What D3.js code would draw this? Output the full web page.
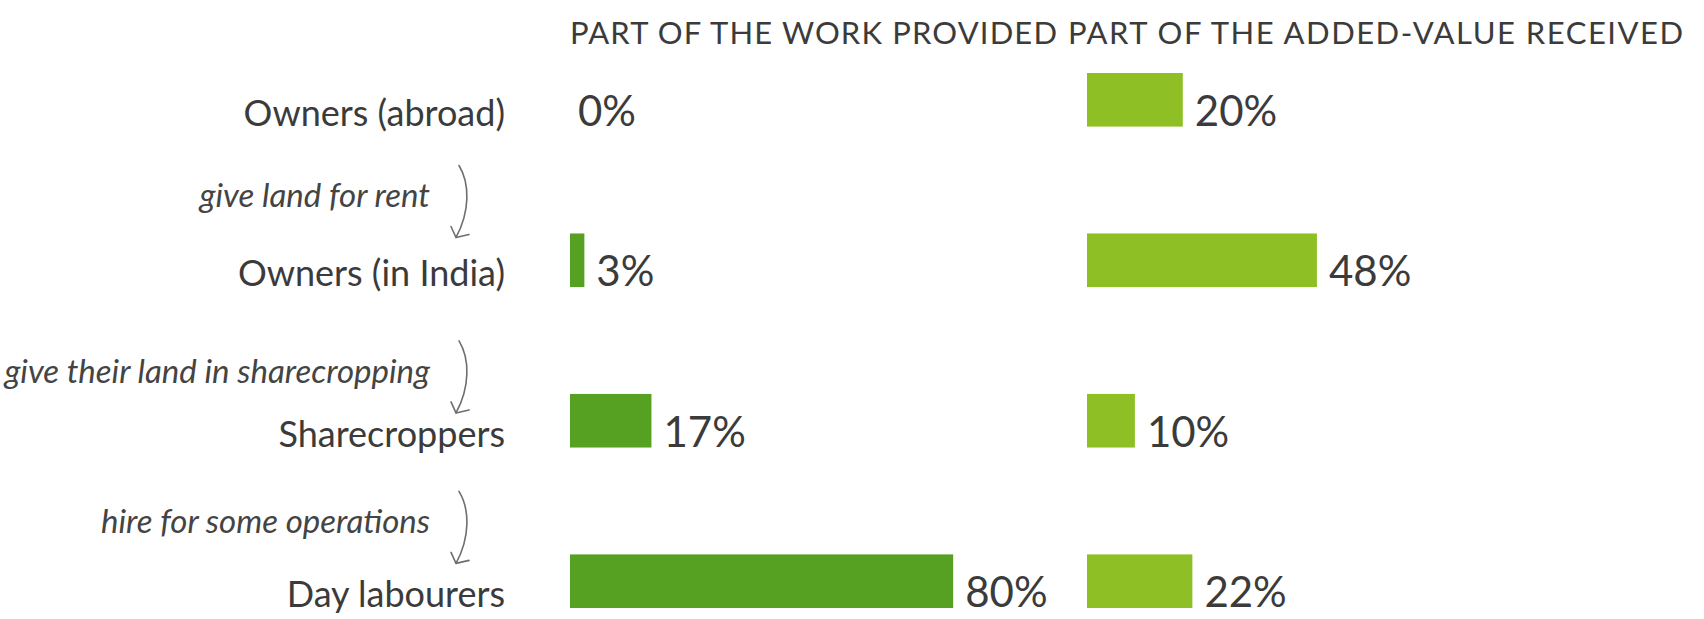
<!DOCTYPE html>
<html>
<head>
<meta charset="utf-8">
<script src="https://cdn.jsdelivr.net/npm/d3@7"></script>
<style>
  html, body { margin: 0; padding: 0; background: #fff; }
  svg { display: block; }
</style>
</head>
<body>
<svg id="chart" width="1704" height="619"></svg>
<script>
// ---- data ----
const categories = ["Owners (abroad)", "Owners (in India)", "Sharecroppers", "Day labourers"];
const workProvided = [0, 3, 17, 80];
const valueReceived = [20, 48, 10, 22];
const columnTitles = ["PART OF THE WORK PROVIDED", "PART OF THE ADDED-VALUE RECEIVED"];
const relations = ["give land for rent", "give their land in sharecropping", "hire for some operations"];

// ---- layout ----
const svg = d3.select("#chart");
const textColor = "#3b3b3b";
const workColor = "#56a022";
const valueColor = "#8ec025";

const y = d3.scaleBand().domain(categories).range([73, 608]).paddingInner(0.666).paddingOuter(0);
const pxPerPct = 4.79;
const xWork = d3.scaleLinear().domain([0, 100]).range([570, 570 + 100 * pxPerPct]);
const xValue = d3.scaleLinear().domain([0, 100]).range([1087, 1087 + 100 * pxPerPct]);

const rows = categories.map((c, i) => ({ cat: c, work: workProvided[i], value: valueReceived[i] }));

// column titles
const titleX = [570, 1068];
const titleW = [487, 615];
svg.selectAll("text.title").data(columnTitles).join("text")
  .attr("class", "title")
  .attr("x", (d, i) => titleX[i])
  .attr("y", 44)
  .attr("font-family", "Lato, 'Noto Sans', sans-serif")
  .attr("font-size", 31)
  .attr("fill", textColor)
  .attr("textLength", (d, i) => titleW[i])
  .attr("lengthAdjust", "spacing")
  .text(d => d);

// row labels
svg.selectAll("text.cat").data(rows).join("text")
  .attr("class", "cat")
  .attr("x", 505)
  .attr("y", d => y(d.cat) + y.bandwidth() - 1)
  .attr("text-anchor", "end")
  .attr("font-family", "Lato, 'Noto Sans', sans-serif")
  .attr("font-size", 36)
  .attr("fill", textColor)
  .text(d => d.cat);

// bars
function drawSeries(key, xs, color) {
  const g = svg.append("g");
  g.selectAll("rect").data(rows).join("rect")
    .attr("x", xs(0))
    .attr("y", d => y(d.cat))
    .attr("width", d => xs(d[key]) - xs(0))
    .attr("height", y.bandwidth())
    .attr("fill", color);
  g.selectAll("text").data(rows).join("text")
    .attr("x", d => xs(d[key]) + (d[key] === 0 ? 8 : 12))
    .attr("y", d => y(d.cat) + y.bandwidth() - 1)
    .attr("font-family", "Lato, 'Noto Sans', sans-serif")
    .attr("font-size", 42)
    .attr("fill", textColor)
    .text(d => d[key] + "%");
}
drawSeries("work", xWork, workColor);
drawSeries("value", xValue, valueColor);

// relation annotations with curved arrows
const annoOffset = [-26, -11, -21]; // baseline relative to the next row's top
const ann = relations.map((t, i) => ({ t, base: y(categories[i + 1]) + annoOffset[i] }));
svg.selectAll("text.rel").data(ann).join("text")
  .attr("class", "rel")
  .attr("x", 430)
  .attr("y", d => d.base)
  .attr("text-anchor", "end")
  .attr("font-family", "Lato, 'Noto Sans', sans-serif")
  .attr("font-style", "italic")
  .attr("font-size", 33)
  .attr("fill", "#444")
  .text(d => d.t);

const arrowG = svg.append("g").attr("fill", "none").attr("stroke", "#6e6e6e")
  .attr("stroke-width", 1.6).attr("stroke-linecap", "round").attr("stroke-linejoin", "round");
ann.forEach(d => {
  const top = d.base - 42, tip = d.base + 30;
  arrowG.append("path").attr("d",
    `M459,${top} C470,${top + 18} 470,${tip - 26} 456,${tip}`);
  arrowG.append("path").attr("d",
    `M451,${tip - 11} L456,${tip} L469,${tip - 3}`);
});
</script>
</body>
</html>
